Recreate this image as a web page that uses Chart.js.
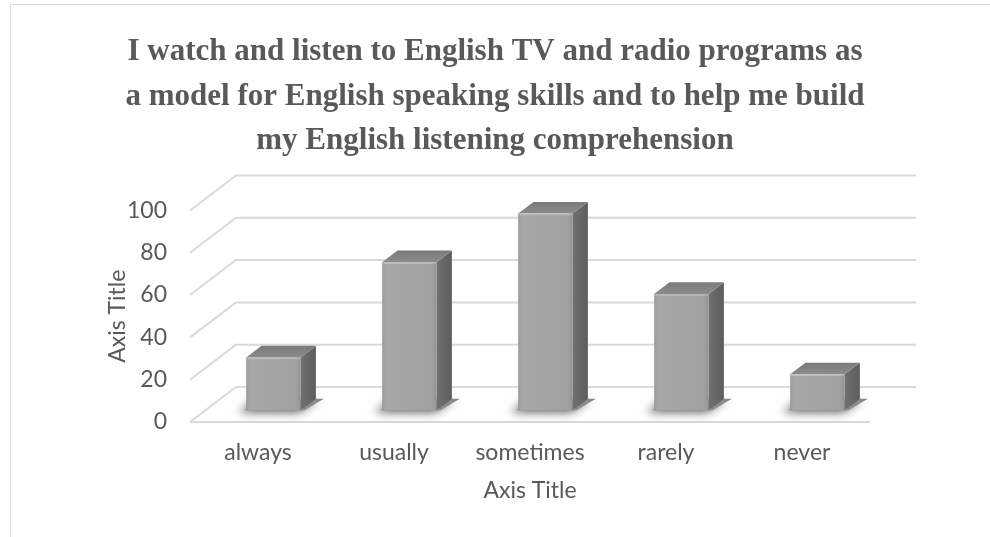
<!DOCTYPE html>
<html>
<head>
<meta charset="utf-8">
<title>English listening habits</title>
<script src="https://cdn.jsdelivr.net/npm/chart.js@4.4.1/dist/chart.umd.min.js"></script>
<style>
  body { margin: 0; background: #fff; }
  #wrap { width: 990px; height: 537px; }
</style>
</head>
<body>
<div id="wrap"><canvas id="freqChart" width="990" height="537"></canvas></div>
<script>
// answers per frequency
const categories = ['always', 'usually', 'sometimes', 'rarely', 'never'];
const responses = [25, 70, 93, 55, 17];
const yTicks = [0, 20, 40, 60, 80, 100];
const titleLines = [
    'I watch and listen to English TV and radio programs as',
    'a model for English speaking skills and to help me build',
    'my English listening comprehension'
];

// how far the back wall sits up/right of the front plane
const DEPTH_X = 46;
const DEPTH_Y = 35;

const TEXT = '#595959';
const SANS = 'Lato, "Open Sans", sans-serif';

function drawColumn(ctx, l, r, top, bot, dx, dy) {
    ctx.save();

    // shadow under the column
    ctx.save();
    ctx.shadowColor = 'rgba(0,0,0,0.65)';
    ctx.shadowBlur = 10;
    ctx.shadowOffsetX = -6;
    ctx.shadowOffsetY = 2;
    ctx.fillStyle = '#8a8a8a';
    ctx.beginPath();
    ctx.moveTo(l - 2, bot);
    ctx.lineTo(r + 4, bot);
    ctx.lineTo(r + dx + 8, bot - dy);
    ctx.lineTo(l + dx, bot - dy);
    ctx.closePath();
    ctx.fill();
    ctx.restore();

    // side face
    let g = ctx.createLinearGradient(r, 0, r + dx, 0);
    g.addColorStop(0, '#717171');
    g.addColorStop(1, '#5c5c5c');
    ctx.fillStyle = g;
    ctx.beginPath();
    ctx.moveTo(r, bot);
    ctx.lineTo(r, top);
    ctx.lineTo(r + dx, top - dy);
    ctx.lineTo(r + dx, bot - dy);
    ctx.closePath();
    ctx.fill();

    // top face
    g = ctx.createLinearGradient(0, top - dy, 0, top);
    g.addColorStop(0, '#7a7a7a');
    g.addColorStop(1, '#8b8b8b');
    ctx.fillStyle = g;
    ctx.beginPath();
    ctx.moveTo(l, top);
    ctx.lineTo(r, top);
    ctx.lineTo(r + dx, top - dy);
    ctx.lineTo(l + dx, top - dy);
    ctx.closePath();
    ctx.fill();

    // front face
    g = ctx.createLinearGradient(l, 0, r, 0);
    g.addColorStop(0, '#9c9c9c');
    g.addColorStop(0.08, '#a7a7a7');
    g.addColorStop(0.5, '#a4a4a4');
    g.addColorStop(0.92, '#a0a0a0');
    g.addColorStop(1, '#939393');
    ctx.fillStyle = g;
    ctx.fillRect(l, top, r - l, bot - top);

    // light bevel along the top edge
    ctx.strokeStyle = 'rgba(255,255,255,0.25)';
    ctx.lineWidth = 1.5;
    ctx.beginPath();
    ctx.moveTo(l + 1, top + 1);
    ctx.lineTo(r - 1, top + 1);
    ctx.stroke();

    ctx.restore();
}

const box3d = {
    id: 'box3d',
    beforeDraw(chart) {
        const ctx = chart.ctx;
        ctx.save();
        ctx.strokeStyle = '#d9d9d9';
        ctx.lineWidth = 1;
        ctx.beginPath();
        ctx.moveTo(10.5, chart.height);
        ctx.lineTo(10.5, 4.5);
        ctx.lineTo(chart.width, 4.5);
        ctx.stroke();
        ctx.restore();
    },
    beforeDatasetsDraw(chart) {
        const ctx = chart.ctx;
        const a = chart.chartArea;
        const y = chart.scales.y;
        ctx.save();
        ctx.strokeStyle = '#d9d9d9';
        ctx.lineWidth = 2;
        ctx.beginPath();
        yTicks.forEach(function(v){
            const py = y.getPixelForValue(v);
            ctx.moveTo(a.left, py);
            ctx.lineTo(a.left + DEPTH_X, py - DEPTH_Y);
            ctx.lineTo(a.right + DEPTH_X, py - DEPTH_Y);
        });
        const y0 = y.getPixelForValue(0);
        ctx.moveTo(a.left, y0);
        ctx.lineTo(a.right, y0);
        ctx.stroke();
        ctx.restore();
    },
    afterDatasetsDraw(chart) {
        const ctx = chart.ctx;
        const y = chart.scales.y;
        const y0 = y.getPixelForValue(0);
        const values = chart.data.datasets[0].data;
        // columns stand in the middle third of the floor depth
        const fx = DEPTH_X / 3;
        const fy = DEPTH_Y / 3;
        chart.getDatasetMeta(0).data.forEach(function(bar, i){
            const l = bar.x - bar.width / 2 + fx;
            const r = l + bar.width;
            const top = y.getPixelForValue(values[i]) - fy;
            drawColumn(ctx, l, r, top, y0 - fy, fx, fy);
        });
    }
};

new Chart(document.getElementById('freqChart'), {
    type: 'bar',
    data: {
        labels: categories,
        datasets: [{
            data: responses,
            backgroundColor: 'rgba(0,0,0,0)',
            barPercentage: 0.4,
            categoryPercentage: 1
        }]
    },
    options: {
        responsive: false,
        animation: false,
        events: [],
        layout: { padding: { left: 10, right: 10, top: 0, bottom: 0 } },
        plugins: {
            legend: { display: false },
            tooltip: { enabled: false },
            title: {
                display: true,
                text: titleLines,
                color: TEXT,
                font: { family: '"Liberation Serif", "Times New Roman", serif', size: 31, weight: 'bold', lineHeight: 1.435 },
                padding: { top: 30, bottom: 47 }
            }
        },
        scales: {
            x: {
                grid: { display: false, drawTicks: false },
                border: { display: false },
                ticks: { color: TEXT, font: { family: SANS, size: 23 }, padding: 17 },
                title: {
                    display: true,
                    text: 'Axis Title',
                    color: TEXT,
                    font: { family: SANS, size: 23 },
                    padding: { top: 0, bottom: 33 }
                },
                afterFit(s) { s.height = 115; }
            },
            y: {
                min: 0,
                max: 100,
                afterBuildTicks(s) { s.ticks = yTicks.map(v => ({ value: v })); },
                grid: { display: false, drawTicks: false },
                border: { display: false },
                ticks: { color: TEXT, font: { family: SANS, size: 23 }, padding: 23 },
                title: {
                    display: true,
                    text: 'Axis Title',
                    color: TEXT,
                    font: { family: SANS, size: 23 },
                    padding: { top: 94, bottom: 0 }
                },
                afterFit(s) { s.width = 180; }
            },
            // empty strip on the right, room for the back wall
            yRight: {
                type: 'linear',
                position: 'right',
                grid: { display: false, drawTicks: false },
                border: { display: false },
                ticks: { display: false },
                afterFit(s) { s.width = 110; }
            }
        }
    },
    plugins: [box3d]
});
</script>
</body>
</html>
